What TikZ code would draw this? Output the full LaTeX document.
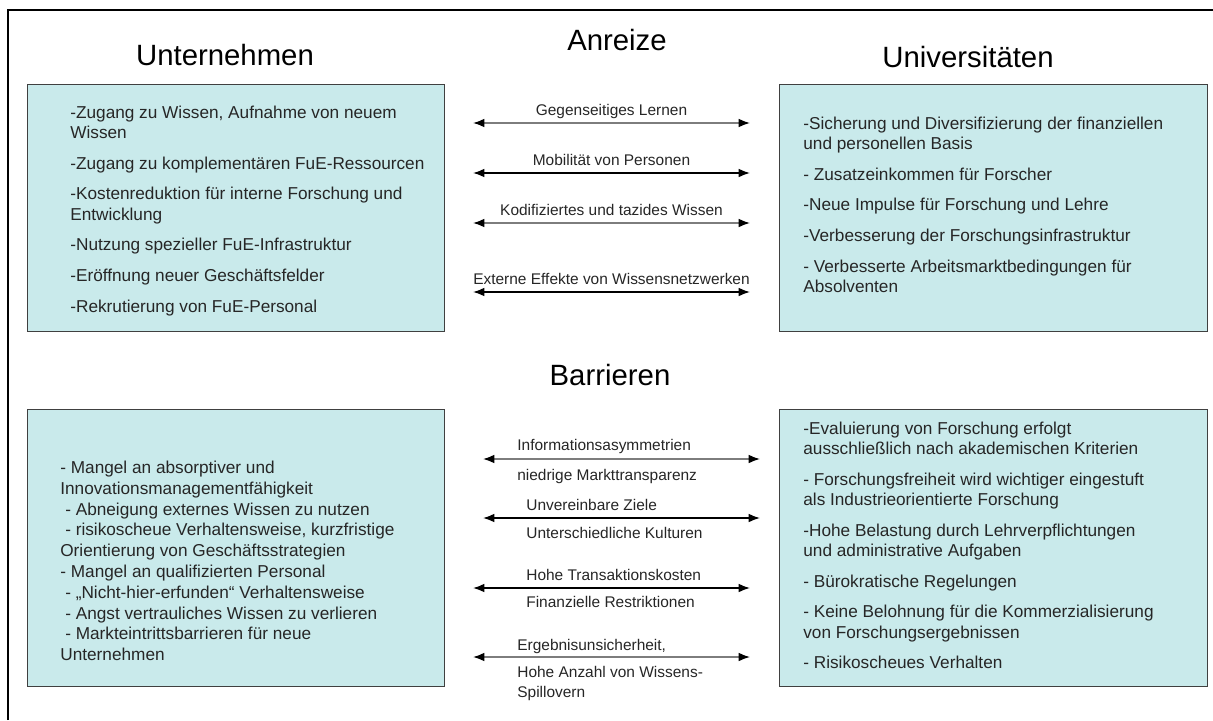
\documentclass[tikz,border=0pt]{standalone}
\usepackage{fontspec}
\setmainfont{Liberation Sans}
\usetikzlibrary{arrows.meta}
\definecolor{boxfill}{RGB}{201,234,235}
\definecolor{boxline}{RGB}{64,64,64}
\definecolor{linkgray}{RGB}{125,125,125}
\newcommand{\itemgap}{5.8pt}
\newcommand{\indentdash}{\hspace*{2.8pt}}

\begin{document}
\begin{tikzpicture}[x=0.02cm, y=-0.02cm,
  panel/.style={draw=boxline, line width=0.8pt, fill=boxfill, inner sep=0pt, anchor=north west},
  heading/.style={font=\fontsize{16.7pt}{20pt}\selectfont},
  itemtext/.style={font=\fontsize{9.8pt}{11.6pt}\selectfont, text=black!85, align=left, anchor=north west, inner sep=0pt},
  linktext/.style={font=\fontsize{8.8pt}{11.3pt}\selectfont, text=black!85, inner sep=0pt},
  link/.style={{Latex[length=6.5pt,width=5pt,color=black]}-{Latex[length=6.5pt,width=5pt,color=black]}, line width=0.9pt},
  ]
  \useasboundingbox (0,0) rectangle (1213,720);
  \draw[line width=1.6pt] (8,720) -- (8,10) -- (1213,10);

  % headings
  \node[heading] (hUnt) at (225,55) {Unternehmen};
  \node[heading] (hAnr) at (617,40) {Anreize};
  \node[heading] (hUni) at (968,57) {Universitäten};
  \node[heading] (hBar) at (610,375) {Barrieren};

  % panels
  \node[panel, minimum width=8.34cm, minimum height=4.94cm] (untAnr) at (27,84) {};
  \node[panel, minimum width=8.56cm, minimum height=4.94cm] (uniAnr) at (779,84) {};
  \node[panel, minimum width=8.34cm, minimum height=5.54cm] (untBar) at (27,409) {};
  \node[panel, minimum width=8.56cm, minimum height=5.54cm] (uniBar) at (779,409) {};

  \node[itemtext] (untAnrText) at (70,105.6) {-Zugang zu Wissen, Aufnahme von neuem\\Wissen\\[\itemgap]
    -Zugang zu komplementären FuE-Ressourcen\\[\itemgap]
    -Kostenreduktion für interne Forschung und\\Entwicklung\\[\itemgap]
    -Nutzung spezieller FuE-Infrastruktur\\[\itemgap]
    -Eröffnung neuer Geschäftsfelder\\[\itemgap]
    -Rekrutierung von FuE-Personal};
  \node[itemtext] (uniAnrText) at (803,116.6) {-Sicherung und Diversifizierung der finanziellen\\und personellen Basis\\[\itemgap]
    - Zusatzeinkommen für Forscher\\[\itemgap]
    -Neue Impulse für Forschung und Lehre\\[\itemgap]
    -Verbesserung der Forschungsinfrastruktur\\[\itemgap]
    - Verbesserte Arbeitsmarktbedingungen für\\Absolventen};
  \node[itemtext, font=\fontsize{9.8pt}{11.85pt}\selectfont] (untBarText) at (60,460.6) {- Mangel an absorptiver und\\Innovationsmanagementfähigkeit\\
    \indentdash- Abneigung externes Wissen zu nutzen\\
    \indentdash- risikoscheue Verhaltensweise, kurzfristige\\Orientierung von Geschäftsstrategien\\
    - Mangel an qualifizierten Personal\\
    \indentdash- „Nicht-hier-erfunden“ Verhaltensweise\\
    \indentdash- Angst vertrauliches Wissen zu verlieren\\
    \indentdash- Markteintrittsbarrieren für neue\\Unternehmen};
  \node[itemtext] (uniBarText) at (803,421.6) {-Evaluierung von Forschung erfolgt\\ausschließlich nach akademischen Kriterien\\[\itemgap]
    - Forschungsfreiheit wird wichtiger eingestuft\\als Industrieorientierte Forschung\\[\itemgap]
    -Hohe Belastung durch Lehrverpflichtungen\\und administrative Aufgaben\\[\itemgap]
    - Bürokratische Regelungen\\[\itemgap]
    - Keine Belohnung für die Kommerzialisierung\\von Forschungsergebnissen\\[\itemgap]
    - Risikoscheues Verhalten};

  % incentive links
  \coordinate (lernL) at (473,123);  \coordinate (lernR) at (750,123);
  \coordinate (mobL)  at (473,173);  \coordinate (mobR)  at (750,173);
  \coordinate (kodL)  at (473,223);  \coordinate (kodR)  at (750,223);
  \coordinate (extL)  at (473,292);  \coordinate (extR)  at (750,292);
  \draw[link, linkgray] (lernL) -- node[linktext, midway, anchor=base, yshift=4.5pt] (lernLbl) {Gegenseitiges Lernen} (lernR);
  \draw[link] (mobL) -- node[linktext, midway, anchor=base, yshift=4.5pt] (mobLbl) {Mobilität von Personen} (mobR);
  \draw[link, linkgray] (kodL) -- node[linktext, midway, anchor=base, yshift=4.5pt] (kodLbl) {Kodifiziertes und tazides Wissen} (kodR);
  \draw[link] (extL) -- node[linktext, midway, anchor=base, yshift=4.5pt] (extLbl) {Externe Effekte von Wissensnetzwerken} (extR);

  % barrier links
  \coordinate (infL) at (483,459);  \coordinate (infR) at (760,459);
  \coordinate (zielL) at (483,518); \coordinate (zielR) at (760,518);
  \coordinate (transL) at (473,588); \coordinate (transR) at (750,588);
  \coordinate (ergL) at (473,657);  \coordinate (ergR) at (750,657);
  \draw[link, linkgray] (infL) -- (infR);
  \draw[link] (zielL) -- (zielR);
  \draw[link] (transL) -- (transR);
  \draw[link, linkgray] (ergL) -- (ergR);

  \node[linktext, anchor=base west] (infTop) at (517,450) {Informationsasymmetrien};
  \node[linktext, anchor=base west] (infBot) at (517,480) {niedrige Markttransparenz};
  \node[linktext, anchor=base west] (zielTop) at (526,510) {Unvereinbare Ziele};
  \node[linktext, anchor=base west] (zielBot) at (526,538) {Unterschiedliche Kulturen};
  \node[linktext, anchor=base west] (transTop) at (526,580) {Hohe Transaktionskosten};
  \node[linktext, anchor=base west] (transBot) at (526,607) {Finanzielle Restriktionen};
  \node[linktext, anchor=base west] (ergTop) at (517,650) {Ergebnisunsicherheit,};
  \node[linktext, align=left, anchor=north west] (ergBot) at (517,666) {Hohe Anzahl von Wissens-\\Spillovern};
\end{tikzpicture}
\end{document}
